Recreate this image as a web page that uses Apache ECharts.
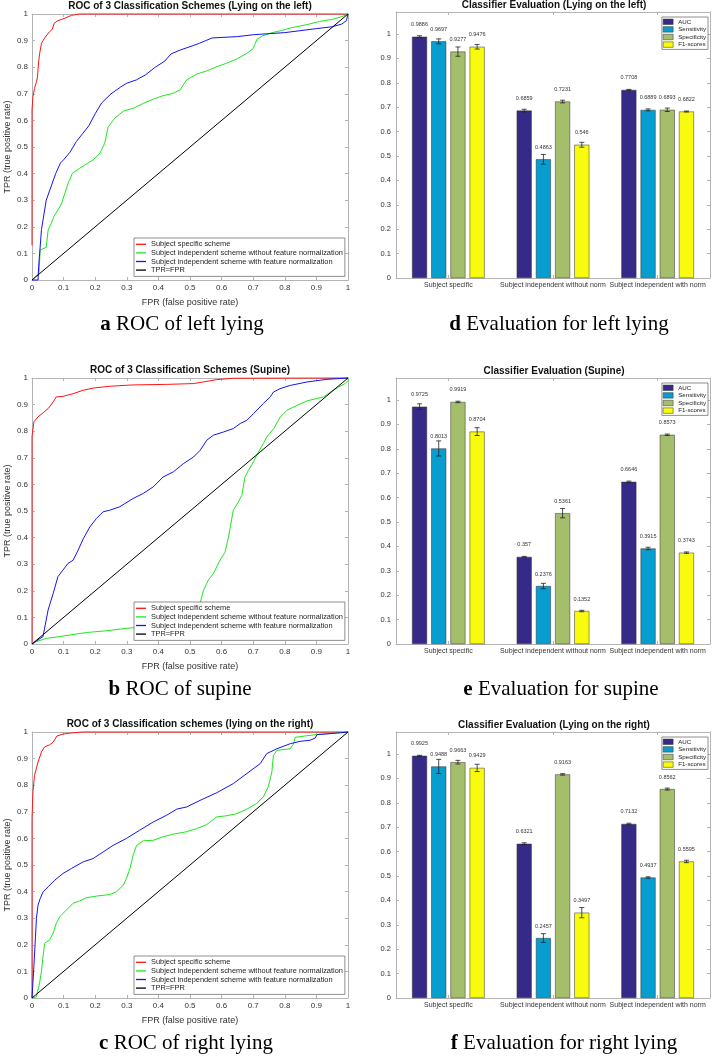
<!DOCTYPE html>
<html><head><meta charset="utf-8">
<script src="https://cdn.jsdelivr.net/npm/echarts@6/dist/echarts.min.js"></script>
<style>html,body{margin:0;padding:0;background:#fff}#c{width:713px;height:1057px}</style>
</head><body><div id="c"></div><script>
// ---------- DATA ----------
const rocNames = ['Subject specific scheme','Subject independent scheme without feature normalization','Subject independent scheme with feature normalization','TPR=FPR'];
const rocTitles = ['ROC of 3 Classification Schemes (Lying on the left)','ROC of 3 Classification Schemes (Supine)','ROC of 3 Classification schemes (lying on the right)'];
const barTitles = ['Classifier Evaluation (Lying on the left)','Classifier Evaluation (Supine)','Classifier Evaluation (Lying on the right)'];
const captionLetters = ['a','b','c','d','e','f'];
const captionTexts = ['ROC of left lying','ROC of supine','ROC of right lying','Evaluation for left lying','Evaluation for supine','Evaluation for right lying'];
const categories = ['Subject specific','Subject independent without norm','Subject independent with norm'];
const metrics = ['AUC','Sensitivity','Specificity','F1-scores'];
const diagonal = [[0,0],[1,1]];

// ROC: lying on the left
const rocLeftSpecific = [[0,0.13],[0,0.64],[0.003,0.69],[0.008,0.72],[0.014,0.745],[0.017,0.76],[0.021,0.82],[0.024,0.85],[0.03,0.89],[0.04,0.91],[0.056,0.934],[0.064,0.942],[0.07,0.965],[0.082,0.975],[0.104,0.984],[0.125,0.995],[0.15,1],[1,1]];
const rocLeftNoNorm = [[0,0],[0.022,0.025],[0.026,0.113],[0.045,0.123],[0.051,0.188],[0.061,0.213],[0.069,0.238],[0.082,0.263],[0.093,0.286],[0.104,0.326],[0.114,0.363],[0.128,0.401],[0.151,0.42],[0.172,0.436],[0.193,0.451],[0.215,0.476],[0.23,0.514],[0.241,0.576],[0.262,0.608],[0.289,0.635],[0.32,0.645],[0.352,0.664],[0.384,0.68],[0.415,0.693],[0.447,0.702],[0.468,0.714],[0.489,0.752],[0.521,0.774],[0.553,0.786],[0.585,0.802],[0.616,0.815],[0.648,0.831],[0.68,0.852],[0.7,0.87],[0.705,0.885],[0.712,0.905],[0.73,0.918],[0.76,0.93],[0.79,0.938],[0.82,0.948],[0.87,0.96],[0.91,0.972],[0.95,0.98],[0.98,0.99],[1,1]];
const rocLeftNorm = [[0,0],[0.019,0],[0.021,0.05],[0.03,0.19],[0.045,0.3],[0.06,0.35],[0.075,0.4],[0.09,0.44],[0.1,0.452],[0.12,0.48],[0.14,0.52],[0.16,0.55],[0.18,0.58],[0.2,0.625],[0.22,0.665],[0.25,0.7],[0.28,0.725],[0.3,0.74],[0.33,0.752],[0.36,0.772],[0.39,0.8],[0.42,0.823],[0.44,0.85],[0.47,0.865],[0.5,0.877],[0.53,0.89],[0.55,0.9],[0.57,0.91],[0.65,0.915],[0.7,0.922],[0.8,0.93],[0.9,0.945],[0.95,0.952],[0.98,0.962],[0.995,0.975],[1,1]];

// ROC: supine
const rocSupSpecific = [[0,0],[0,0.78],[0.006,0.835],[0.019,0.854],[0.035,0.869],[0.051,0.885],[0.067,0.91],[0.077,0.929],[0.098,0.931],[0.13,0.941],[0.162,0.954],[0.193,0.962],[0.246,0.969],[0.32,0.974],[0.426,0.976],[0.51,0.979],[0.542,0.985],[0.585,0.994],[0.637,0.999],[1,1]];
const rocSupNoNorm = [[0,0],[0.014,0.009],[0.045,0.021],[0.088,0.028],[0.12,0.034],[0.172,0.043],[0.236,0.05],[0.3,0.059],[0.341,0.063],[0.394,0.071],[0.45,0.09],[0.5,0.12],[0.532,0.152],[0.542,0.2],[0.558,0.24],[0.574,0.265],[0.595,0.315],[0.611,0.345],[0.622,0.403],[0.637,0.503],[0.653,0.534],[0.664,0.559],[0.674,0.628],[0.685,0.653],[0.701,0.685],[0.711,0.71],[0.732,0.753],[0.743,0.778],[0.765,0.81],[0.786,0.854],[0.807,0.879],[0.839,0.897],[0.87,0.914],[0.923,0.929],[0.944,0.947],[0.97,0.966],[0.991,0.979],[1,0.99],[1,1]];
const rocSupNorm = [[0,0],[0.035,0.028],[0.04,0.06],[0.051,0.128],[0.067,0.19],[0.082,0.253],[0.098,0.278],[0.114,0.303],[0.13,0.315],[0.146,0.353],[0.162,0.395],[0.183,0.44],[0.204,0.472],[0.225,0.497],[0.246,0.503],[0.278,0.516],[0.294,0.528],[0.32,0.547],[0.352,0.566],[0.384,0.591],[0.415,0.628],[0.447,0.647],[0.479,0.678],[0.511,0.703],[0.532,0.728],[0.553,0.766],[0.574,0.785],[0.606,0.797],[0.637,0.81],[0.659,0.829],[0.68,0.841],[0.701,0.866],[0.732,0.904],[0.754,0.929],[0.764,0.947],[0.785,0.96],[0.817,0.972],[0.87,0.985],[0.933,0.995],[1,1]];

// ROC: lying on the right
const rocRightSpecific = [[0,0],[0,0.675],[0.003,0.775],[0.008,0.837],[0.019,0.887],[0.03,0.925],[0.04,0.944],[0.056,0.952],[0.067,0.962],[0.079,0.985],[0.098,0.992],[0.12,0.996],[0.162,1],[1,1]];
const rocRightNoNorm = [[0,0],[0.014,0.004],[0.024,0.056],[0.03,0.1],[0.035,0.156],[0.04,0.206],[0.056,0.219],[0.067,0.244],[0.077,0.281],[0.088,0.306],[0.109,0.331],[0.13,0.356],[0.151,0.365],[0.172,0.377],[0.204,0.383],[0.246,0.389],[0.267,0.399],[0.289,0.424],[0.299,0.449],[0.31,0.487],[0.32,0.537],[0.331,0.574],[0.352,0.591],[0.384,0.593],[0.415,0.606],[0.447,0.616],[0.489,0.625],[0.521,0.637],[0.553,0.652],[0.585,0.681],[0.616,0.685],[0.648,0.693],[0.68,0.71],[0.711,0.731],[0.732,0.756],[0.748,0.794],[0.759,0.85],[0.764,0.912],[0.775,0.931],[0.817,0.937],[0.828,0.956],[0.833,0.98],[0.87,0.986],[0.912,0.992],[0.955,0.995],[1,1]];
const rocRightNorm = [[0,0],[0.006,0.119],[0.011,0.23],[0.014,0.3],[0.019,0.349],[0.026,0.374],[0.035,0.399],[0.051,0.418],[0.072,0.443],[0.098,0.468],[0.125,0.487],[0.162,0.512],[0.193,0.524],[0.225,0.549],[0.257,0.574],[0.299,0.6],[0.341,0.631],[0.384,0.662],[0.426,0.687],[0.458,0.71],[0.489,0.718],[0.532,0.743],[0.585,0.772],[0.637,0.806],[0.68,0.844],[0.722,0.881],[0.743,0.919],[0.775,0.937],[0.817,0.956],[0.849,0.965],[0.88,0.969],[0.896,0.977],[0.902,0.99],[0.955,0.995],[1,1]];

// Bars: lying on the left
const leftAUC = [0.9886, 0.6859, 0.7708];
const leftSens = [0.9697, 0.4863, 0.6889];
const leftSpec = [0.9277, 0.7231, 0.6893];
const leftF1 = [0.9476, 0.546, 0.6822];
const leftAUCErr = [0.004, 0.0055, 0.002];
const leftSensErr = [0.01, 0.02, 0.004];
const leftSpecErr = [0.019, 0.0055, 0.007];
const leftF1Err = [0.0095, 0.01, 0.002];
// Bars: supine
const supAUC = [0.9725, 0.357, 0.6646];
const supSens = [0.8013, 0.2376, 0.3915];
const supSpec = [0.9919, 0.5361, 0.8573];
const supF1 = [0.8704, 0.1352, 0.3743];
const supAUCErr = [0.0116, 0.002, 0.003];
const supSensErr = [0.031, 0.011, 0.005];
const supSpecErr = [0.003, 0.019, 0.003];
const supF1Err = [0.016, 0.003, 0.003];
// Bars: lying on the right
const rightAUC = [0.9925, 0.6321, 0.7132];
const rightSens = [0.9488, 0.2457, 0.4937];
const rightSpec = [0.9663, 0.9163, 0.8562];
const rightF1 = [0.9429, 0.3497, 0.5595];
const rightAUCErr = [0.002, 0.004, 0.003];
const rightSensErr = [0.029, 0.018, 0.003];
const rightSpecErr = [0.0075, 0.003, 0.004];
const rightF1Err = [0.015, 0.021, 0.005];

// ---------- STYLE / LAYOUT ----------
const FONT = '"Liberation Sans", Arial, Helvetica, sans-serif';
const SERIF = '"Liberation Serif", "Times New Roman", serif';
const AXIS = '#b4b4b4';
const TXT = '#333';
const rocColors = ['#ff1414', '#1ee61e', '#1414f0', '#000000'];
const barColors = ['#352A87', '#079DCF', '#A5BE6B', '#F9FB0E'];
const rocTops = [14, 378, 732];
const barTops = [12, 378, 732];
const PLOT_H = 266;
const BAR_W = 15, BAR_GAP = 0.28;

const rocSets = [
  [rocLeftSpecific, rocLeftNoNorm, rocLeftNorm, diagonal],
  [rocSupSpecific, rocSupNoNorm, rocSupNorm, diagonal],
  [rocRightSpecific, rocRightNoNorm, rocRightNorm, diagonal]
];
const barSets = [
  [[leftAUC, leftAUCErr], [leftSens, leftSensErr], [leftSpec, leftSpecErr], [leftF1, leftF1Err]],
  [[supAUC, supAUCErr], [supSens, supSensErr], [supSpec, supSpecErr], [supF1, supF1Err]],
  [[rightAUC, rightAUCErr], [rightSens, rightSensErr], [rightSpec, rightSpecErr], [rightF1, rightF1Err]]
];

const grids = [], xAxes = [], yAxes = [], series = [], legends = [], graphics = [];
const fmt = v => (v > 1.0001 ? '' : String(Math.round(v * 10) / 10));

function valueAxis(g, pos, showLabel, max, extra) {
  return Object.assign({
    gridIndex: g, type: 'value', position: pos, min: 0, max: max, interval: 0.1,
    axisLine: { show: true, onZero: false, lineStyle: { color: AXIS, width: 1 } },
    axisTick: { show: true, inside: true, length: 3, lineStyle: { color: AXIS } },
    axisLabel: { show: showLabel, fontSize: 8, color: TXT, fontFamily: FONT, margin: 4, formatter: fmt },
    splitLine: { show: false }
  }, extra || {});
}

// ROC panels
for (let k = 0; k < 3; k++) {
  const g = grids.length;
  grids.push({ left: 32, top: rocTops[k], width: 316, height: PLOT_H, outerBoundsMode: 'none' });
  xAxes.push(valueAxis(g, 'bottom', true, 1, { name: 'FPR (false positive rate)', nameLocation: 'middle', nameGap: 18, nameTextStyle: { fontSize: 9, color: TXT, fontFamily: FONT } }));
  xAxes.push(valueAxis(g, 'top', false, 1));
  yAxes.push(valueAxis(g, 'left', true, 1, { name: 'TPR (true positive rate)', nameLocation: 'middle', nameGap: 20, nameTextStyle: { fontSize: 9, color: TXT, fontFamily: FONT } }));
  yAxes.push(valueAxis(g, 'right', false, 1));
  rocSets[k].forEach((d, i) => {
    series.push({
      name: rocNames[i], type: 'line', xAxisIndex: 2 * g, yAxisIndex: 2 * g, data: d,
      showSymbol: false, symbol: 'none', clip: false, animation: false, silent: true,
      color: rocColors[i], lineStyle: { color: rocColors[i], width: 1 }, itemStyle: { color: rocColors[i] }
    });
  });
  legends.push({
    left: 134, top: rocTops[k] + 224, orient: 'vertical', data: rocNames, icon: 'rect',
    itemWidth: 10, itemHeight: 1.3, itemGap: 0, padding: [2, 2, 2, 2], selectedMode: false,
    backgroundColor: '#fff', borderColor: '#444', borderWidth: 0.6, z: 10,
    textStyle: { fontSize: 7.4, lineHeight: 8.6, color: '#222', fontFamily: FONT }
  });
  graphics.push({ type: 'text', x: 190, y: rocTops[k] - 8, z: 20,
    style: { text: rocTitles[k], font: 'bold 10px ' + FONT, fill: '#111', align: 'center', verticalAlign: 'middle' } });
}

// Bar panels
for (let k = 0; k < 3; k++) {
  const g = grids.length;
  grids.push({ left: 396, top: barTops[k], width: 314, height: PLOT_H, outerBoundsMode: 'none' });
  const catAxis = (pos, show) => ({
    gridIndex: g, type: 'category', position: pos, data: categories,
    axisLine: { show: true, onZero: false, lineStyle: { color: AXIS, width: 1 } },
    axisTick: { show: true, inside: true, alignWithLabel: true, length: 3, lineStyle: { color: AXIS } },
    axisLabel: { show: show, interval: 0, fontSize: 7, color: TXT, fontFamily: FONT, margin: 4 },
    splitLine: { show: false }
  });
  xAxes.push(catAxis('bottom', true));
  xAxes.push(catAxis('top', false));
  yAxes.push(valueAxis(g, 'left', true, 1.09, { axisLabel: { fontSize: 7.5, color: TXT, fontFamily: FONT, margin: 5, formatter: fmt } }));
  yAxes.push(valueAxis(g, 'right', false, 1.09));
  barSets[k].forEach((pair, i) => {
    series.push({
      name: metrics[i], type: 'bar', xAxisIndex: 2 * g, yAxisIndex: 2 * g, data: pair[0],
      barWidth: BAR_W, barGap: (BAR_GAP * 100) + '%', animation: false, silent: true,
      itemStyle: { color: barColors[i], borderColor: '#333', borderWidth: 0.5 },
      label: { show: true, position: 'top', distance: 9, fontSize: 5.5, color: TXT, fontFamily: FONT }
    });
  });
  barSets[k].forEach((pair, i) => {
    const pitch = BAR_W * (1 + BAR_GAP);
    series.push({
      type: 'custom', xAxisIndex: 2 * g, yAxisIndex: 2 * g, z: 5, animation: false, silent: true,
      data: pair[0].map((v, c) => [c, v, pair[1][c]]),
      encode: { x: 0, y: 1 },
      renderItem: function (params, api) {
        const c = api.value(0), v = api.value(1), e = api.value(2);
        const x = api.coord([c, v])[0] + (i - 1.5) * pitch;
        const yt = api.coord([c, v + e])[1], yb = api.coord([c, v - e])[1];
        const st = { stroke: '#222', lineWidth: 0.8 };
        return { type: 'group', children: [
          { type: 'line', shape: { x1: x, y1: yt, x2: x, y2: yb }, style: st },
          { type: 'line', shape: { x1: x - 2.5, y1: yt, x2: x + 2.5, y2: yt }, style: st },
          { type: 'line', shape: { x1: x - 2.5, y1: yb, x2: x + 2.5, y2: yb }, style: st }
        ] };
      }
    });
  });
  legends.push({
    right: 5, top: barTops[k] + 5, orient: 'vertical', data: metrics, icon: 'rect',
    itemWidth: 10, itemHeight: 5.5, itemGap: 0, padding: [1, 2, 1, 1], selectedMode: false,
    backgroundColor: '#fff', borderColor: '#444', borderWidth: 0.6, z: 10,
    itemStyle: { borderColor: '#333', borderWidth: 0.5 },
    textStyle: { fontSize: 6.2, lineHeight: 7.6, color: '#222', fontFamily: FONT }
  });
  graphics.push({ type: 'text', x: 554, y: barTops[k] - 7, z: 20,
    style: { text: barTitles[k], font: 'bold 10px ' + FONT, fill: '#111', align: 'center', verticalAlign: 'middle' } });
}

// Captions
const capX = [182, 180, 186, 559, 561, 564];
const capY = [324.5, 689.5, 1043.5, 324.5, 689.5, 1043.5];
for (let k = 0; k < 6; k++) {
  graphics.push({ type: 'text', x: capX[k], y: capY[k], z: 20,
    style: { text: '{b|' + captionLetters[k] + '} ' + captionTexts[k], fontSize: 21, fontFamily: SERIF, fill: '#000',
      align: 'center', verticalAlign: 'middle',
      rich: { b: { fontWeight: 'bold', fontSize: 21, fontFamily: SERIF, fill: '#000' } } } });
}

const chart = echarts.init(document.getElementById('c'), null, { renderer: 'canvas', width: 713, height: 1057 });
chart.setOption({
  backgroundColor: '#fff',
  animation: false,
  grid: grids, xAxis: xAxes, yAxis: yAxes, series: series, legend: legends,
  graphic: graphics
});
</script></body></html>
